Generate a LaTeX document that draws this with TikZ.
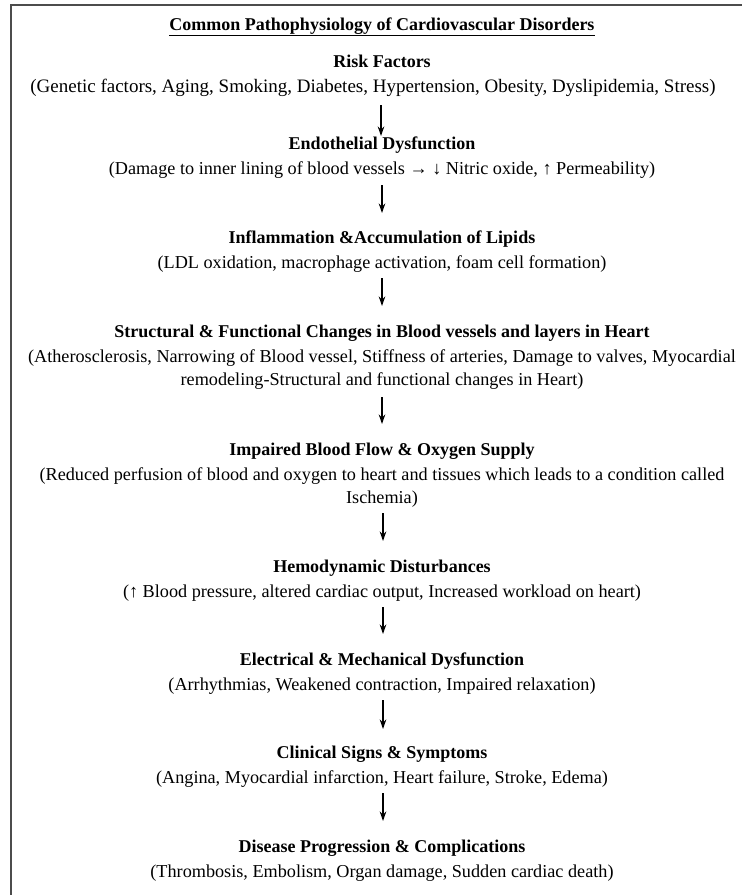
\documentclass[tikz,border=0pt]{standalone}
\usepackage{fontspec}
\setmainfont{Liberation Serif}
\usetikzlibrary{arrows.meta}
\begin{document}
\begin{tikzpicture}[x=1pt,y=-1pt,
  txt/.style={inner sep=0pt, anchor=base, font=\fontsize{18.2}{21}\selectfont},
  head/.style={txt, font=\fontsize{18}{21}\selectfont\bfseries},
  arr/.style={line width=1.6pt, -{Stealth[length=9.5pt,width=6.5pt]}},
  frame/.style={draw=black!70, line width=2.2pt}]
\useasboundingbox (0,0) rectangle (742,895);
\draw[frame] (11,895) -- (11,5) -- (742,5);
\def\cx{382}
\node[head] (title) at (\cx,30) {\underline{Common Pathophysiology of Cardiovascular Disorders}};
% block 1
\node[head] (h1) at (\cx,67) {Risk Factors};
\node[txt, font=\fontsize{19}{21}\selectfont] (d1) at (373,92) {(Genetic factors, Aging, Smoking, Diabetes, Hypertension, Obesity, Dyslipidemia, Stress)};
% block 2
\node[head] (h2) at (\cx,149) {Endothelial Dysfunction};
\node[txt] (d2) at (\cx,174) {(Damage to inner lining of blood vessels → ↓ Nitric oxide, ↑ Permeability)};
% block 3
\node[head] (h3) at (\cx,243) {Inflammation \&Accumulation of Lipids};
\node[txt] (d3) at (\cx,268) {(LDL oxidation, macrophage activation, foam cell formation)};
% block 4
\node[head] (h4) at (\cx,337) {Structural \& Functional Changes in Blood vessels and layers in Heart};
\node[txt] (d4a) at (\cx,362) {(Atherosclerosis, Narrowing of Blood vessel, Stiffness of arteries, Damage to valves, Myocardial};
\node[txt] (d4b) at (\cx,385) {remodeling-Structural and functional changes in Heart)};
% block 5
\node[head] (h5) at (\cx,455) {Impaired Blood Flow \& Oxygen Supply};
\node[txt] (d5a) at (\cx,480) {(Reduced perfusion of blood and oxygen to heart and tissues which leads to a condition called};
\node[txt] (d5b) at (\cx,503) {Ischemia)};
% block 6
\node[head] (h6) at (\cx,572) {Hemodynamic Disturbances};
\node[txt] (d6) at (\cx,597) {(↑ Blood pressure, altered cardiac output, Increased workload on heart)};
% block 7
\node[head] (h7) at (\cx,665) {Electrical \& Mechanical Dysfunction};
\node[txt] (d7) at (\cx,690) {(Arrhythmias, Weakened contraction, Impaired relaxation)};
% block 8
\node[head] (h8) at (\cx,758) {Clinical Signs \& Symptoms};
\node[txt] (d8) at (\cx,783) {(Angina, Myocardial infarction, Heart failure, Stroke, Edema)};
% block 9
\node[head] (h9) at (\cx,852) {Disease Progression \& Complications};
\node[txt] (d9) at (\cx,877) {(Thrombosis, Embolism, Organ damage, Sudden cardiac death)};
% arrow end points
\coordinate (a1s) at (381,105); \coordinate (a1e) at (381,136);
\coordinate (a2s) at (382,185); \coordinate (a2e) at (382,213);
\coordinate (a3s) at (382,278); \coordinate (a3e) at (382,306);
\coordinate (a4s) at (382,397); \coordinate (a4e) at (382,424);
\coordinate (a5s) at (383,513); \coordinate (a5e) at (383,541);
\coordinate (a6s) at (383,607); \coordinate (a6e) at (383,634);
\coordinate (a7s) at (383,700); \coordinate (a7e) at (383,729);
\coordinate (a8s) at (383,793); \coordinate (a8e) at (383,821);
\foreach \i in {1,...,8} \draw[arr] (a\i s) -- (a\i e);
\end{tikzpicture}
\end{document}
